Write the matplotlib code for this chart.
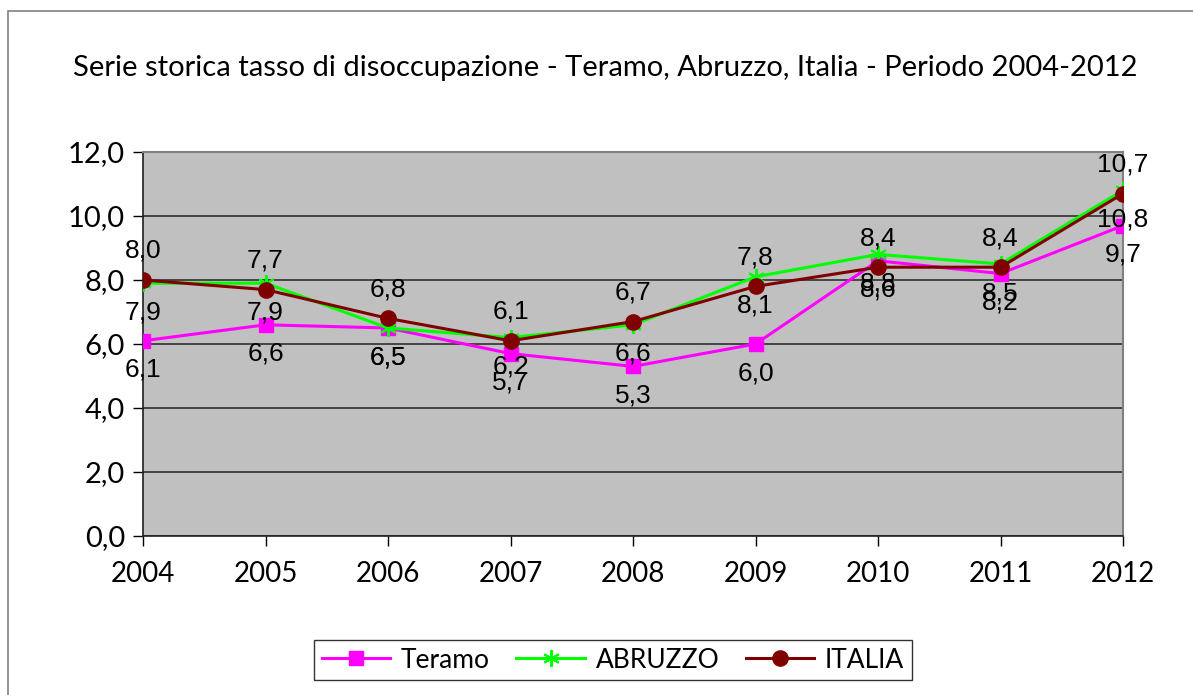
import matplotlib.pyplot as plt
from matplotlib.patches import Rectangle

# data
years = ["2004", "2005", "2006", "2007", "2008", "2009", "2010", "2011", "2012"]
teramo = [6.1, 6.6, 6.5, 5.7, 5.3, 6.0, 8.6, 8.2, 9.7]
abruzzo = [7.9, 7.9, 6.5, 6.2, 6.6, 8.1, 8.8, 8.5, 10.8]
italia = [8.0, 7.7, 6.8, 6.1, 6.7, 7.8, 8.4, 8.4, 10.7]
y_ticks = [0, 2, 4, 6, 8, 10, 12]

TITLE = "Serie storica tasso di disoccupazione - Teramo, Abruzzo, Italia - Periodo 2004-2012"
UI_FONT = ["Lato", "DejaVu Sans"]
LBL_FONT = ["Liberation Sans", "DejaVu Sans"]

fig = plt.figure(figsize=(11.93, 6.95), dpi=100)
fig.patches.append(Rectangle((8 / 1193, -0.1), 1.2, 1 - 11 / 695 + 0.1,
                             transform=fig.transFigure, fill=False,
                             edgecolor="#808080", linewidth=1.2))

ax = fig.add_axes([143 / 1193, 1 - 536 / 695, 980 / 1193, 384 / 695])
ax.set_facecolor("#C0C0C0")

x = list(range(len(years)))
ax.plot(x, teramo, color="#FF00FF", lw=2.2, marker="s", ms=10, label="Teramo", zorder=3)
ax.plot(x, abruzzo, color="#00FF00", lw=2.2, marker=(6, 2, 0), ms=12, mew=1.5,
        label="ABRUZZO", zorder=4)
ax.plot(x, italia, color="#800000", lw=2.2, marker="o", ms=11, label="ITALIA", zorder=5)

def fmt(v):
    return f"{v:.1f}".replace(".", ",")

for xi, v in zip(x, italia):
    ax.annotate(fmt(v), (xi, v), xytext=(0, 21), textcoords="offset points",
                ha="center", va="center", fontsize=19, family=LBL_FONT, zorder=6)
for series in (abruzzo, teramo):
    for xi, v in zip(x, series):
        ax.annotate(fmt(v), (xi, v), xytext=(0, -21), textcoords="offset points",
                    ha="center", va="center", fontsize=19, family=LBL_FONT, zorder=6)

ax.set_xlim(0, len(years) - 1)
ax.set_ylim(0, 12)
ax.set_xticks(x)
ax.set_xticklabels(years, family=UI_FONT, fontsize=20)
ax.set_yticks(y_ticks)
ax.set_yticklabels([fmt(v) for v in y_ticks], family=UI_FONT, fontsize=21)
ax.tick_params(axis="both", direction="out", length=7, width=1, color="black", pad=6)
ax.tick_params(axis="x", pad=11)
ax.yaxis.grid(True, color="#303030", lw=1.2)
ax.set_axisbelow(True)
for side in ("left", "bottom"):
    ax.spines[side].set_color("#202020")
    ax.spines[side].set_linewidth(1.2)
for side in ("top", "right"):
    ax.spines[side].set_color("#808080")
    ax.spines[side].set_linewidth(1.5)

fig.text(605 / 1193, 1 - 68 / 695, TITLE, ha="center", va="center",
         fontsize=21, family=UI_FONT)

leg = fig.legend(loc="center", bbox_to_anchor=(613 / 1193, 1 - 660 / 695), ncol=3,
                 prop={"family": UI_FONT, "size": 19}, frameon=True, fancybox=False,
                 edgecolor="black", handlelength=2.6, columnspacing=1.0,
                 handletextpad=0.4, borderpad=0.3)
leg.get_frame().set_linewidth(1.0)

fig.savefig("out.png", dpi=100)
